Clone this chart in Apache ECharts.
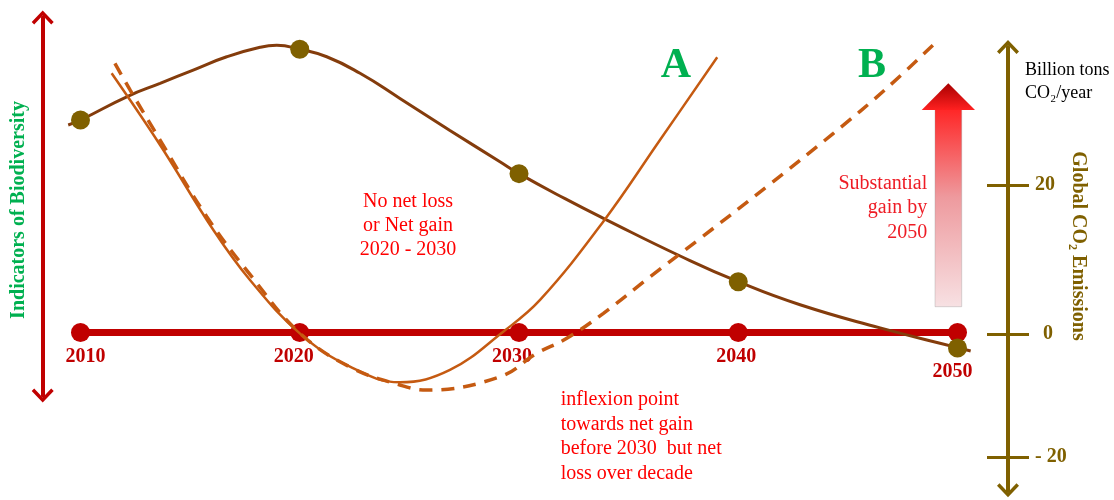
<!DOCTYPE html>
<html><head><meta charset="utf-8">
<script src="https://cdn.jsdelivr.net/npm/echarts@6/dist/echarts.min.js"></script>
<style>html,body{margin:0;padding:0;background:#fff}#c{width:1114px;height:500px}</style>
</head><body><div id="c"></div>
<script>
// ---- data ----
const years = [2010, 2020, 2030, 2040, 2050];
const yearLabels = ['2010', '2020', '2030', '2040', '2050'];
// Global CO2 emissions (billion tons CO2/year) at the marked years
const emissionValues = [28.7, 38.2, 21.5, 7.0, -1.9];
// traced emission curve (ends extend slightly past the first and last dots)
const emissionCurveYears = [2009.44, 2010, 2012.18, 2013.63, 2015.14, 2016.67, 2018.19, 2018.95, 2020, 2021.23, 2022.75, 2024.57, 2026.85, 2029.13, 2030, 2032.1, 2034.01, 2037.35, 2040, 2042.82, 2046.47, 2050, 2050.6];
const emissionCurveValues = [28.03, 28.7, 31.92, 33.62, 35.41, 37.19, 38.46, 38.72, 38.2, 37.19, 34.97, 31.6, 27.3, 23.1, 21.5, 18.14, 15.27, 10.45, 7.0, 3.9, 0.8, -1.85, -2.3];
// biodiversity indicator, path A (solid)
const curveAYears = [2011.42, 2013.63, 2016.06, 2017.73, 2020.0, 2022.29, 2024.57, 2026.85, 2029.28, 2030.96, 2033.84, 2036.43, 2039.04];
const curveAValues = [24.69, 17.86, 9.76, 5.0, -0.08, -3.26, -4.74, -3.57, 0.08, 3.1, 10.55, 18.33, 26.21];
// biodiversity indicator, path B (dashed)
const curveBYears = [2011.57, 2012.26, 2013.63, 2015.76, 2017.82, 2020.0, 2022.29, 2024.57, 2025.79, 2029.14, 2030.81, 2032.18, 2033.85, 2035.98, 2038.26, 2041.3, 2044.34, 2046.77, 2049.12];
const curveBValues = [25.64, 23.1, 18.33, 11.03, 5.29, -0.05, -3.29, -5.0, -5.48, -4.21, -1.98, -0.55, 1.83, 5.31, 8.95, 13.89, 18.97, 23.26, 27.86];
// right axis ticks (the "- 20" tick sits closer to 0 in the drawing)
const emissionTickValues = [20, 0, -16.5];
const emissionTickLabels = ['20', '0', '- 20'];

// ---- styling ----
const SERIF = "'Liberation Serif','Times New Roman',serif";
const RED = '#C00000', OLIVE = '#7F6000', BROWN = '#843C0C', ORANGE = '#C55A11', GREEN = '#00B050', TXTRED = '#FF0000';
const chevron = 'path://M11,0 L22,11.5 L19.5,14 L11,5 L2.5,14 L0,11.5 Z';
const yearLabelOffsets = [[5, 0], [-6, 0], [-7, 0], [-2, 0], [-5, 15]];

const chart = echarts.init(document.getElementById('c'), null, {renderer: 'canvas'});
const xCommon = {type: 'value', min: 2008.276, max: 2052.303, show: false};
const option = {
  animation: false,
  backgroundColor: '#fff',
  grid: [
    {left: 42.7, right: 106, top: 47, bottom: 9.7, containLabel: false, outerBoundsMode: 'none'},
    {left: 42.7, right: 106, top: 17.5, bottom: 104.5, containLabel: false, outerBoundsMode: 'none'}
  ],
  xAxis: [Object.assign({gridIndex: 0}, xCommon), Object.assign({gridIndex: 1}, xCommon)],
  yAxis: [
    {
      gridIndex: 0, type: 'value', position: 'right', min: -21, max: 38.5,
      axisLine: {show: true, onZero: false, lineStyle: {color: OLIVE, width: 4}, symbol: [chevron, chevron], symbolSize: [22, 14]},
      axisTick: {show: true, inside: false, length: 21, customValues: emissionTickValues, lineStyle: {color: OLIVE, width: 3}},
      axisLabel: {
        show: true, customValues: emissionTickValues, margin: 27,
        formatter: function (v) {
          const i = emissionTickValues.indexOf(v);
          const t = i >= 0 ? emissionTickLabels[i] : '';
          return t === '0' ? '{z|' + t + '}' : '{n|' + t + '}';
        },
        rich: {
          n: {color: OLIVE, fontWeight: 'bold', fontSize: 20, fontFamily: SERIF},
          z: {color: OLIVE, fontWeight: 'bold', fontSize: 20, fontFamily: SERIF, padding: [0, 0, 0, 8]}
        }
      },
      splitLine: {show: false}
    },
    {
      gridIndex: 0, type: 'value', position: 'right', min: -21, max: 38.5,
      axisLine: {show: false},
      axisTick: {show: true, inside: true, length: 21, customValues: emissionTickValues, lineStyle: {color: OLIVE, width: 3}},
      axisLabel: {show: false},
      splitLine: {show: false}
    },
    {
      gridIndex: 1, type: 'value', position: 'left', min: -6, max: 30,
      axisLine: {show: true, onZero: false, lineStyle: {color: RED, width: 4}, symbol: [chevron, chevron], symbolSize: [22, 14]},
      axisTick: {show: false}, axisLabel: {show: false}, splitLine: {show: false}
    }
  ],
  series: [
    {
      type: 'line', xAxisIndex: 1, yAxisIndex: 2, z: 1,
      data: years.map((y, i) => ({
        value: [y, 0],
        label: {offset: yearLabelOffsets[i]}
      })),
      symbol: 'circle', symbolSize: 19,
      itemStyle: {color: RED, opacity: 1},
      lineStyle: {color: RED, width: 7},
      label: {
        show: true, position: 'bottom', distance: 5,
        formatter: p => yearLabels[p.dataIndex],
        color: RED, fontWeight: 'bold', fontSize: 20, fontFamily: SERIF
      }
    },
    {
      type: 'line', xAxisIndex: 0, yAxisIndex: 0, z: 2, clip: false,
      data: emissionCurveYears.map((y, i) => [y, emissionCurveValues[i]]),
      showSymbol: false, symbol: 'none', smooth: 0.5,
      lineStyle: {color: BROWN, width: 3}
    },
    {
      type: 'line', xAxisIndex: 1, yAxisIndex: 2, z: 3, clip: false,
      data: curveAYears.map((y, i) => [y, curveAValues[i]]),
      showSymbol: false, symbol: 'none', smooth: 0.4,
      lineStyle: {color: ORANGE, width: 2.5}
    },
    {
      type: 'line', xAxisIndex: 1, yAxisIndex: 2, z: 3, clip: false,
      data: curveBYears.map((y, i) => [y, curveBValues[i]]),
      showSymbol: false, symbol: 'none', smooth: 0.4,
      lineStyle: {color: ORANGE, width: 3.5, type: [13, 9]}
    },
    {
      type: 'scatter', xAxisIndex: 0, yAxisIndex: 0, z: 4,
      data: years.map((y, i) => [y, emissionValues[i]]),
      symbol: 'circle', symbolSize: 19,
      itemStyle: {color: OLIVE, opacity: 1}
    }
  ],
  graphic: [
    {type: 'text', x: 19, y: 210, rotation: Math.PI / 2, z: 10,
      style: {text: 'Indicators of Biodiversity', fill: GREEN, font: 'bold 20px ' + SERIF, align: 'center', verticalAlign: 'middle'}},
    {type: 'text', x: 1078, y: 246, rotation: -Math.PI / 2, z: 10,
      style: {text: 'Global CO₂ Emissions', fill: OLIVE, font: 'bold 20px ' + SERIF, align: 'center', verticalAlign: 'middle'}},
    {type: 'text', x: 1025, y: 59, z: 10,
      style: {text: 'Billion tons\nCO₂/year', fill: '#000', font: '18px ' + SERIF, lineHeight: 23, align: 'left', verticalAlign: 'top'}},
    {type: 'text', x: 408, y: 189.5, z: 10,
      style: {text: 'No net loss\nor Net gain\n2020 - 2030', fill: TXTRED, font: '20px ' + SERIF, lineHeight: 24, align: 'center', verticalAlign: 'top'}},
    {type: 'text', x: 560.7, y: 387.7, z: 10,
      style: {text: 'inflexion point\ntowards net gain\nbefore 2030  but net\nloss over decade', fill: TXTRED, font: '20px ' + SERIF, lineHeight: 24.5, align: 'left', verticalAlign: 'top'}},
    {type: 'text', x: 927.3, y: 171, z: 10,
      style: {text: 'Substantial\ngain by\n2050', fill: '#EE1C25', font: '20px ' + SERIF, lineHeight: 24.5, align: 'right', verticalAlign: 'top'}},
    {type: 'text', x: 676, y: 66, z: 10,
      style: {text: 'A', fill: GREEN, font: 'bold 42px ' + SERIF, align: 'center', verticalAlign: 'middle'}},
    {type: 'text', x: 872, y: 66, z: 10,
      style: {text: 'B', fill: GREEN, font: 'bold 42px ' + SERIF, align: 'center', verticalAlign: 'middle'}},
    {type: 'polygon', z: 5,
      shape: {points: [[935, 108], [961.7, 108], [961.7, 306.7], [935, 306.7]]},
      style: {
        fill: new echarts.graphic.LinearGradient(0, 0, 0, 1, [
          {offset: 0, color: '#FF2424'}, {offset: 0.45, color: '#EE9A9E'}, {offset: 1, color: '#F7E1E3'}
        ]),
        stroke: 'rgba(150,150,150,0.35)', lineWidth: 1
      }},
    {type: 'polygon', z: 6,
      shape: {points: [[948.3, 83.3], [975, 110], [921.7, 110]]},
      style: {
        fill: new echarts.graphic.LinearGradient(0, 0, 0, 1, [
          {offset: 0, color: '#A80000'}, {offset: 1, color: '#FF2020'}
        ])
      }}
  ]
};
chart.setOption(option);
</script>
</body></html>
